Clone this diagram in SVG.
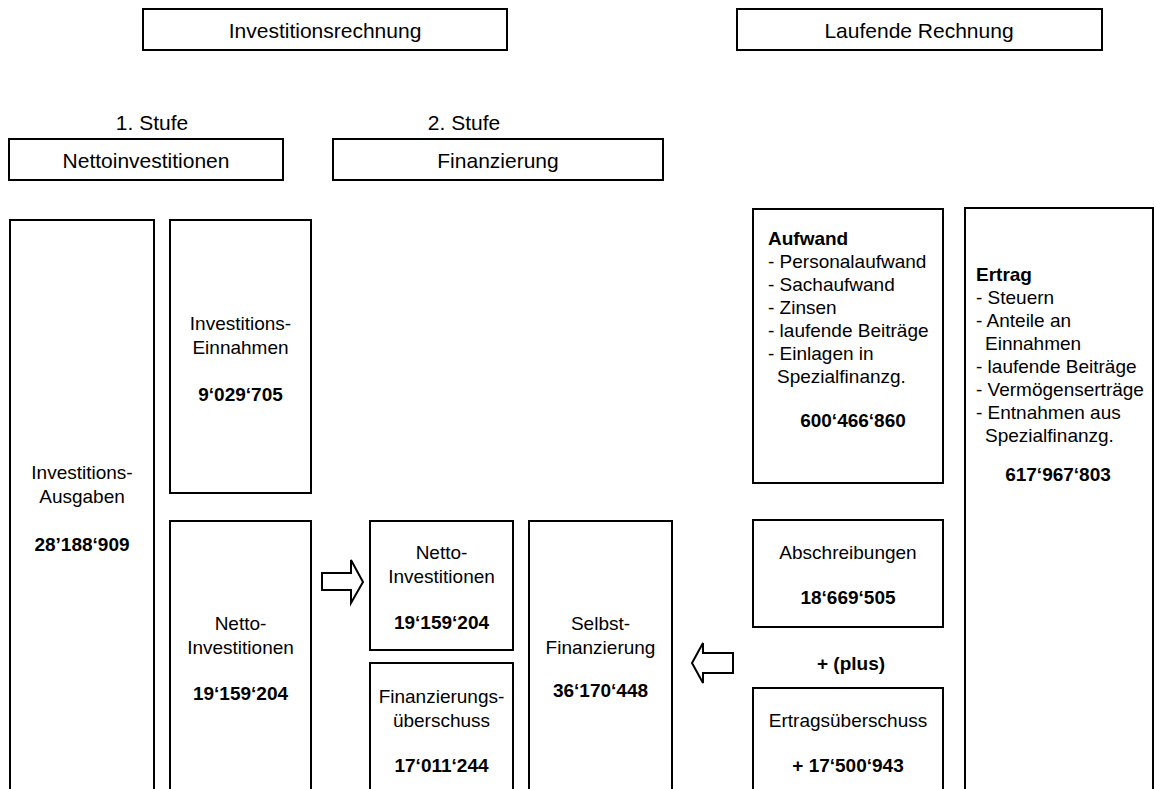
<svg xmlns="http://www.w3.org/2000/svg" width="1156" height="789" viewBox="0 0 1156 789">
<style>
rect.b{fill:#fff;stroke:#000;stroke-width:2}
text{font-family:"Liberation Sans",Arial,sans-serif;font-size:19px;fill:#000}
.h{font-size:21px;text-anchor:middle}
.c{text-anchor:middle}
.bd{font-weight:bold}
.arrow{fill:#fff;stroke:#000;stroke-width:2;stroke-linejoin:miter}
</style>
<rect width="1156" height="789" fill="#fff"/>
<g id="investitionsrechnung"><rect class="b" x="143" y="9" width="364" height="41"/><text class="h" x="325" y="38">Investitionsrechnung</text></g>
<g id="laufende-rechnung"><rect class="b" x="737" y="9" width="365" height="41"/><text class="h" x="919" y="38">Laufende Rechnung</text></g>
<g id="stufe1"><text class="h" x="152" y="130">1. Stufe</text></g>
<g id="stufe2"><text class="h" x="464" y="130">2. Stufe</text></g>
<g id="nettoinvestitionen"><rect class="b" x="9" y="139" width="274" height="41"/><text class="h" x="146" y="168">Nettoinvestitionen</text></g>
<g id="finanzierung"><rect class="b" x="333" y="139" width="330" height="41"/><text class="h" x="498" y="168">Finanzierung</text></g>

<g id="ausgaben"><rect class="b" x="10" y="220" width="144" height="600"/>
<text class="c" x="82" y="479">Investitions-</text><text class="c" x="82" y="503">Ausgaben</text><text class="c bd" x="82" y="551">28’188‘909</text></g>
<g id="einnahmen"><rect class="b" x="170" y="220" width="141" height="273"/>
<text class="c" x="240.5" y="330">Investitions-</text><text class="c" x="240.5" y="354">Einnahmen</text><text class="c bd" x="240.5" y="401">9‘029‘705</text></g>
<g id="netto-links"><rect class="b" x="170" y="521" width="141" height="300"/>
<text class="c" x="240.5" y="630">Netto-</text><text class="c" x="240.5" y="654">Investitionen</text><text class="c bd" x="240.5" y="700">19‘159‘204</text></g>
<g id="netto-mitte"><rect class="b" x="370" y="521" width="143" height="129"/>
<text class="c" x="441.5" y="559">Netto-</text><text class="c" x="441.5" y="583">Investitionen</text><text class="c bd" x="441.5" y="629">19‘159‘204</text></g>
<g id="finanzierungsueberschuss"><rect class="b" x="370" y="663" width="143" height="160"/>
<text class="c" x="441.5" y="703">Finanzierungs-</text><text class="c" x="441.5" y="727">überschuss</text><text class="c bd" x="441.5" y="772">17‘011‘244</text></g>
<g id="selbstfinanzierung"><rect class="b" x="529" y="521" width="143" height="300"/>
<text class="c" x="600.5" y="630">Selbst-</text><text class="c" x="600.5" y="654">Finanzierung</text><text class="c bd" x="600.5" y="697">36‘170‘448</text></g>

<g id="aufwand"><rect class="b" x="753" y="209" width="190" height="274"/>
<text class="bd" x="768" y="245">Aufwand</text>
<text x="768" y="268">- Personalaufwand</text>
<text x="768" y="291">- Sachaufwand</text>
<text x="768" y="314">- Zinsen</text>
<text x="768" y="337">- laufende Beiträge</text>
<text x="768" y="360">- Einlagen in</text>
<text x="777" y="383">Spezialfinanzg.</text>
<text class="c bd" x="853" y="427">600‘466‘860</text></g>
<g id="ertrag"><rect class="b" x="965" y="208" width="188" height="620"/>
<text class="bd" x="976" y="281">Ertrag</text>
<text x="976" y="304">- Steuern</text>
<text x="976" y="327">- Anteile an</text>
<text x="985" y="350">Einnahmen</text>
<text x="976" y="373">- laufende Beiträge</text>
<text x="976" y="396">- Vermögenserträge</text>
<text x="976" y="419">- Entnahmen aus</text>
<text x="985" y="442">Spezialfinanzg.</text>
<text class="c bd" x="1058" y="481">617‘967‘803</text></g>
<g id="abschreibungen"><rect class="b" x="753" y="520" width="190" height="107"/>
<text class="c" x="848" y="559">Abschreibungen</text><text class="c bd" x="848" y="604">18‘669‘505</text></g>
<g id="plus"><text class="c bd" x="851" y="670">+ (plus)</text></g>
<g id="ertragsueberschuss"><rect class="b" x="753" y="688" width="190" height="140"/>
<text class="c" x="848" y="727">Ertragsüberschuss</text><text class="c bd" x="848" y="772">+ 17‘500‘943</text></g>

<g id="connectors">
<polygon class="arrow" points="322,573 351,573 351,560 363,582 351,603 351,590 322,590"/>
<polygon class="arrow" points="733,653 703,653 703,643 692,663 703,683 703,673 733,673"/>
</g>
</svg>
